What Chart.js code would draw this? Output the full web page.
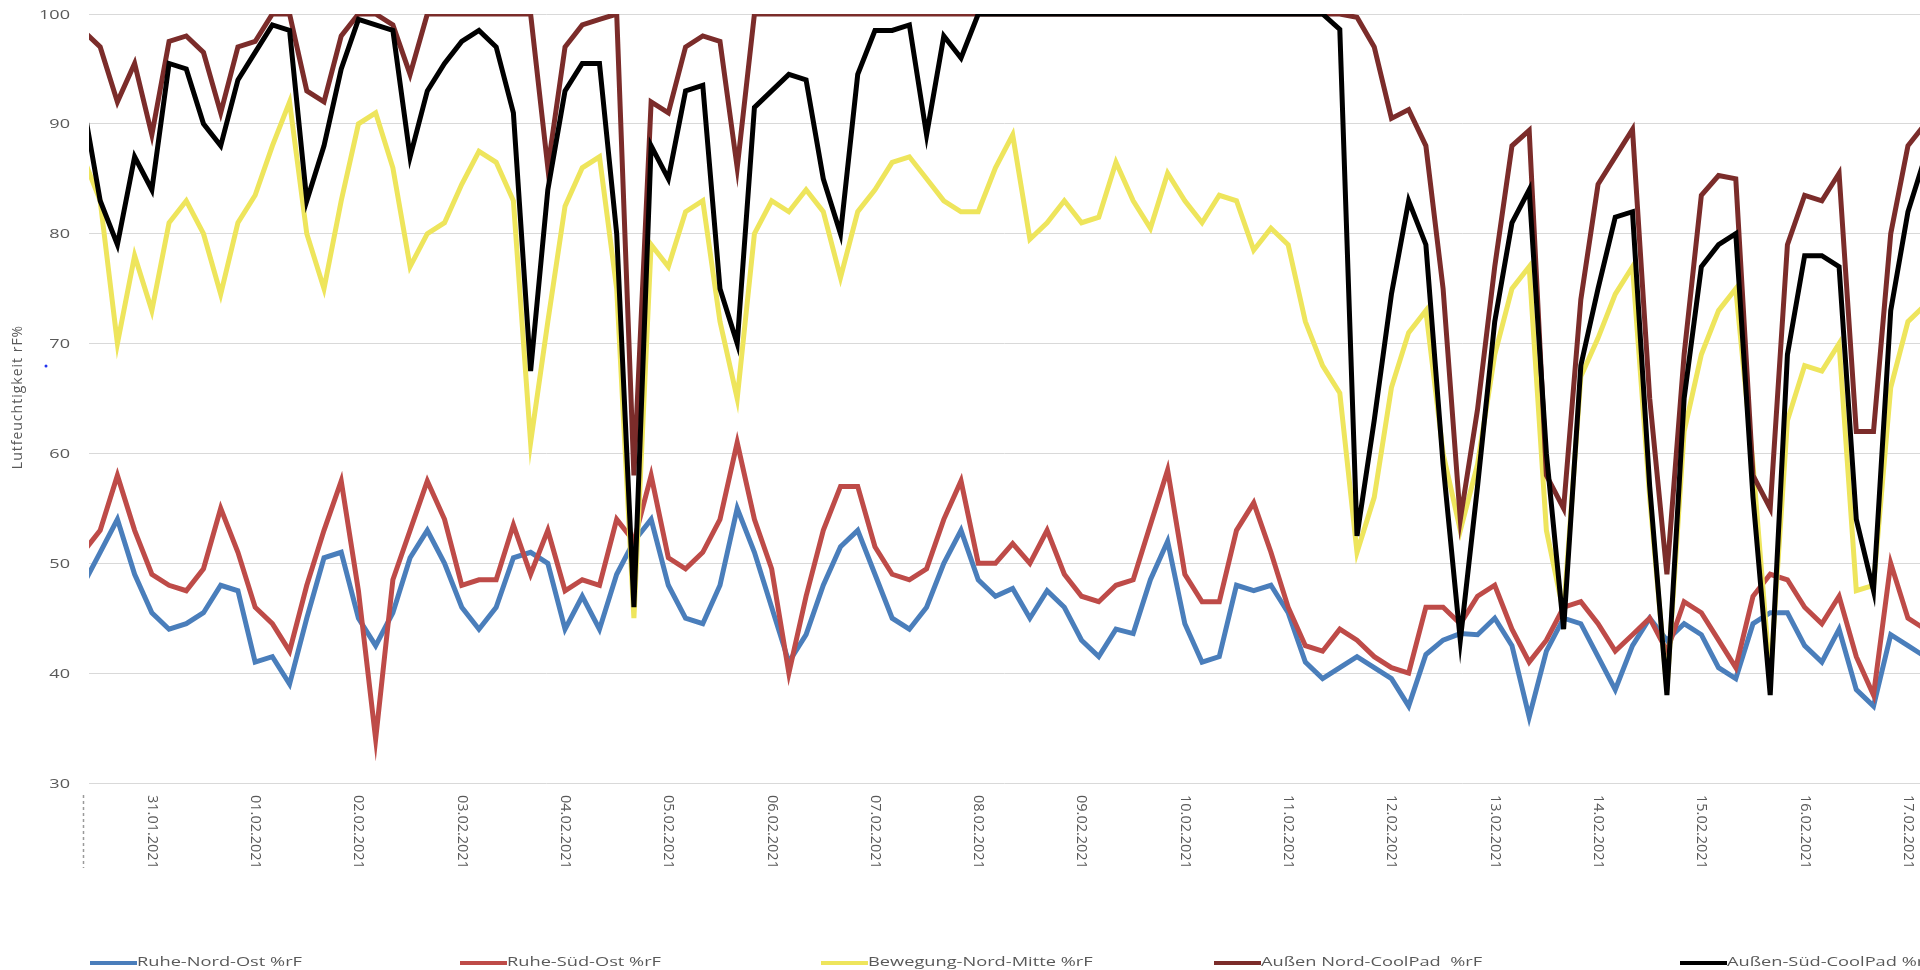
<!DOCTYPE html>
<html>
<head>
<meta charset="utf-8">
<script src="https://cdn.jsdelivr.net/npm/chart.js@4.4.1/dist/chart.umd.min.js"></script>
<style>
  html, body { margin: 0; padding: 0; background: #fff; overflow: hidden; }
  #wrap { width: 1920px; height: 970px; position: relative; }
</style>
</head>
<body>
<div id="wrap"><canvas id="chart"></canvas></div>
<script>
'use strict';

const hours = [8,12,16,20,24,28,32,36,40,44,48,52,56,60,64,68,72,76,80,84,88,92,96,100,104,108,112,116,120,124,128,132,136,140,144,148,152,156,160,164,168,172,176,180,184,188,192,196,200,204,208,212,216,220,224,228,232,236,240,244,248,252,256,260,264,268,272,276,280,284,288,292,296,300,304,308,312,316,320,324,328,332,336,340,344,348,352,356,360,364,368,372,376,380,384,388,392,396,400,404,408,412,416,420,424,428,432,436];

const dayLabels = ['31.01.2021','01.02.2021','02.02.2021','03.02.2021','04.02.2021','05.02.2021','06.02.2021','07.02.2021','08.02.2021','09.02.2021','10.02.2021','11.02.2021','12.02.2021','13.02.2021','14.02.2021','15.02.2021','16.02.2021','17.02.2021'];
const dayHours = [24,48,72,96,120,144,168,192,216,240,264,288,312,336,360,384,408,432];

const yTicks = [30,40,50,60,70,80,90,100];

const ruheNordOst = [48,51,54,49,45.5,44,44.5,45.5,48,47.5,
  41,41.5,39,45,50.5,51,45,42.5,45.5,50.5,
  53,50,46,44,46,50.5,51,50,44,47,
  44,49,52,54,48,45,44.5,48,55,51,
  46,41,43.5,48,51.5,53,49,45,44,46,
  50,53,48.5,47,47.7,45,47.5,46,43,41.5,
  44,43.6,48.5,52,44.5,41,41.5,48,47.5,48,
  45.5,41,39.5,40.5,41.5,40.5,39.5,37,41.7,43,
  43.6,43.5,45,42.5,36,42,45,44.5,41.5,38.5,
  42.5,45,43,44.5,43.5,40.5,39.5,44.5,45.5,45.5,
  42.5,41,44,38.5,37,43.5,42.5,41.5];

const ruheSuedOst = [51,53,58,53,49,48,47.5,49.5,55,51,
  46,44.5,42,48,53,57.5,47.5,34,48.5,53,
  57.5,54,48,48.5,48.5,53.5,49,53,47.5,48.5,
  48,54,52,58,50.5,49.5,51,54,61,54,
  49.5,40,47,53,57,57,51.5,49,48.5,49.5,
  54,57.5,50,50,51.8,50,53,49,47,46.5,
  48,48.5,53.5,58.5,49,46.5,46.5,53,55.5,51,
  46,42.5,42,44,43,41.5,40.5,40,46,46,
  44.5,47,48,44,41,43,46,46.5,44.5,42,
  43.5,45,42,46.5,45.5,43,40.5,47,49,48.5,
  46,44.5,47,41.5,38,50,45,44];

const bewegungNordMitte = [87,83,70,78,73,81,83,80,74.5,81,
  83.5,88,92,80,75,83,90,91,86,77,
  80,81,84.5,87.5,86.5,83,61,72,82.5,86,
  87,75,45,79,77,82,83,72,65,80,
  83,82,84,82,76,82,84,86.5,87,85,
  83,82,82,86,89,79.5,81,83,81,81.5,
  86.5,83,80.5,85.5,83,81,83.5,83,78.5,80.5,
  79,72,68,65.5,51,56,66,71,73,60,
  53,59,69,75,77,53,45.5,67,70.5,74.5,
  77,56,38.5,62,69,73,75,59,39.5,63,
  68,67.5,70,47.5,48,66,72,73.5];

const aussenNordCoolPad = [98.5,97,92,95.5,89,97.5,98,96.5,91,97,
  97.5,100,100,93,92,98,100,100,99,94.5,
  100,100,100,100,100,100,100,86,97,99,
  99.5,100,58,92,91,97,98,97.5,86,100,
  100,100,100,100,100,100,100,100,100,100,
  100,100,100,100,100,100,100,100,100,100,
  100,100,100,100,100,100,100,100,100,100,
  100,100,100,100,99.7,97,90.5,91.3,88,75,
  54,64,77,88,89.4,58,55,74,84.5,87,
  89.5,65,49,69,83.5,85.3,85,58,55,79,
  83.5,83,85.5,62,62,80,88,90];

const aussenSuedCoolPad = [92,83,79,87,84,95.5,95,90,88,94,
  96.5,99,98.5,83,88,95,99.5,99,98.5,87,
  93,95.5,97.5,98.5,97,91,67.5,84,93,95.5,
  95.5,80,46,88,85,93,93.5,75,70,91.5,
  93,94.5,94,85,80,94.5,98.5,98.5,99,89,
  98,96,100,100,100,100,100,100,100,100,
  100,100,100,100,100,100,100,100,100,100,
  100,100,100,98.6,52.5,63,74.5,83,79,59,
  43,57,72,81,84,60,44,68,75,81.5,
  82,57,38,65,77,79,80,56,38,69,
  78,78,77,54,47.5,73,82,87];

const seriesNames = ['Ruhe-Nord-Ost %rF', 'Ruhe-Süd-Ost %rF', 'Bewegung-Nord-Mitte %rF', 'Außen Nord-CoolPad  %rF', 'Außen-Süd-CoolPad %rF'];
const seriesColors = ['#4a7ebb', '#be4b48', '#eee55c', '#7b2c2a', '#000000'];

const textGrey = '#595959';
const fontFam = '"Open Sans", "Liberation Sans", sans-serif';

// Achsenbeschriftung, Datumslabels und Legende (Text im Original breit gezogen)
const decorations = {
  id: 'decorations',
  afterDraw(chart) {
    const ctx = chart.ctx;
    const xs = chart.scales.x;
    const ys = chart.scales.y;
    ctx.save();
    ctx.fillStyle = textGrey;

    // y-Werte
    ctx.font = '12.5px ' + fontFam;
    const sy = 31 / ctx.measureText('100').width;
    ctx.textAlign = 'right';
    ctx.textBaseline = 'middle';
    yTicks.forEach(v => {
      ctx.save();
      ctx.translate(70, ys.getPixelForValue(v) + 1);
      ctx.scale(sy, 1);
      ctx.fillText(String(v), 0, 0);
      ctx.restore();
    });

    // Datumslabels senkrecht (von oben nach unten gelesen)
    ctx.font = '14.5px ' + fontFam;
    ctx.textAlign = 'left';
    dayLabels.forEach((lab, i) => {
      const px = xs.getPixelForValue(dayHours[i]);
      ctx.save();
      ctx.translate(px, 795);
      ctx.rotate(Math.PI / 2);
      ctx.fillText(lab, 0, 0);
      ctx.restore();
    });
    // erstes, abgeschnittenes Label
    const x0 = Math.round(xs.getPixelForValue(hours[0])) + 0.5;
    ctx.strokeStyle = '#9a9a9a';
    ctx.lineWidth = 1.5;
    ctx.setLineDash([3, 3]);
    ctx.beginPath();
    ctx.moveTo(x0, 795);
    ctx.lineTo(x0, 868);
    ctx.stroke();
    ctx.setLineDash([]);

    // y-Achsentitel
    ctx.save();
    ctx.translate(18, 397);
    ctx.rotate(-Math.PI / 2);
    ctx.textAlign = 'center';
    ctx.font = '14px ' + fontFam;
    ctx.letterSpacing = '1px';
    ctx.fillText('Lutfeuchtigkeit rF%', 0, 0);
    ctx.restore();

    ctx.fillStyle = '#2233ee';
    ctx.beginPath();
    ctx.arc(46, 366, 1.5, 0, Math.PI * 2);
    ctx.fill();

    // Legende
    const legX = [90, 460, 821, 1214, 1680];
    ctx.font = '12px ' + fontFam;
    ctx.textAlign = 'left';
    const sl = 165 / ctx.measureText(seriesNames[0]).width;
    seriesNames.forEach((name, i) => {
      ctx.strokeStyle = seriesColors[i];
      ctx.lineWidth = 4;
      ctx.beginPath();
      ctx.moveTo(legX[i], 963);
      ctx.lineTo(legX[i] + 47, 963);
      ctx.stroke();
      ctx.save();
      ctx.translate(legX[i] + 47, 963);
      ctx.scale(sl, 1);
      ctx.fillStyle = textGrey;
      ctx.fillText(name, 0, 0);
      ctx.restore();
    });
    ctx.restore();
  }
};

const allSeries = [ruheNordOst, ruheSuedOst, bewegungNordMitte, aussenNordCoolPad, aussenSuedCoolPad];

const chart = new Chart(document.getElementById('chart').getContext('2d'), {
  type: 'line',
  data: {
    labels: hours,
    datasets: allSeries.map((d, i) => ({
      label: seriesNames[i],
      data: d,
      borderColor: seriesColors[i],
      backgroundColor: seriesColors[i],
      borderWidth: 5,
      pointRadius: 0,
      tension: 0,
      fill: false,
      clip: 0,
      order: allSeries.length - 1 - i
    }))
  },
  options: {
    responsive: true,
    maintainAspectRatio: false,
    animation: false,
    layout: { padding: { left: 0, right: 0, top: 14, bottom: 187 } },
    plugins: {
      legend: { display: false },
      tooltip: { enabled: false }
    },
    scales: {
      x: {
        type: 'linear',
        display: false,
        min: 9.4,
        max: 434.8
      },
      y: {
        min: 30,
        max: 100,
        afterFit(scale) { scale.width = 89; },
        afterBuildTicks(scale) { scale.ticks = yTicks.map(v => ({ value: v })); },
        border: { display: false },
        grid: { color: '#d9d9d9', lineWidth: 1, drawTicks: false },
        ticks: { display: false }
      }
    }
  },
  plugins: [decorations]
});
</script>
</body>
</html>
